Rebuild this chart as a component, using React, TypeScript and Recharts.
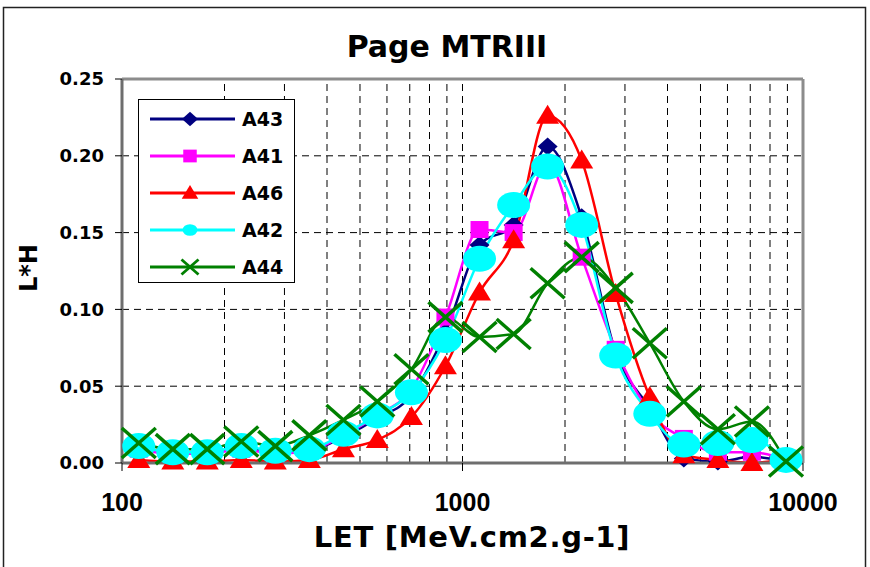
import React from 'react';
import { LineChart, Line, XAxis, YAxis, CartesianGrid, ReferenceLine } from 'recharts';

// LET bin centres (MeV.cm2.g-1)
const letValues = [112, 141, 178, 224, 282, 355, 447, 562, 708, 891, 1122, 1413, 1778, 2239, 2818, 3548, 4467, 5623, 7079, 8913];

const a43 = [0.010, 0.006, 0.006, 0.010, 0.007, 0.008, 0.017, 0.029, 0.044, 0.085, 0.142, 0.155, 0.206, 0.160, 0.072, 0.036, 0.003, 0.001, 0.004, 0.001];
const a41 = [0.009, 0.006, 0.006, 0.009, 0.006, 0.008, 0.018, 0.031, 0.048, 0.095, 0.152, 0.150, 0.195, 0.134, 0.074, 0.033, 0.016, 0.007, 0.007, 0.002];
const a46 = [0.002, 0.001, 0.001, 0.002, 0.001, 0.002, 0.009, 0.015, 0.030, 0.063, 0.111, 0.145, 0.226, 0.197, 0.110, 0.043, 0.005, 0.002, 0.000, 0.003];
const a42 = [0.011, 0.007, 0.007, 0.011, 0.008, 0.009, 0.019, 0.031, 0.046, 0.080, 0.133, 0.168, 0.193, 0.155, 0.070, 0.032, 0.012, 0.013, 0.015, 0.002];
const a44 = [0.013, 0.009, 0.009, 0.014, 0.011, 0.018, 0.028, 0.040, 0.061, 0.095, 0.082, 0.084, 0.117, 0.134, 0.114, 0.078, 0.040, 0.022, 0.027, 0.001];

const xTicks = [100, 1000, 10000];
const yTicks = [0, 0.05, 0.1, 0.15, 0.2, 0.25];
const gridX = [200, 300, 400, 500, 600, 700, 800, 900, 1000, 2000, 3000, 4000, 5000, 6000, 7000, 8000, 9000];

const data = letValues.map((x, i) => ({ x, a43: a43[i], a41: a41[i], a46: a46[i], a42: a42[i], a44: a44[i] }));

type Shape = 'diamond' | 'square' | 'triangle' | 'circle' | 'cross';

const series: { key: string; name: string; color: string; shape: Shape; width: number }[] = [
    { key: 'a43', name: 'A43', color: '#000080', shape: 'diamond', width: 2.5 },
    { key: 'a41', name: 'A41', color: '#FF00FF', shape: 'square', width: 2.5 },
    { key: 'a46', name: 'A46', color: '#FF0000', shape: 'triangle', width: 2.5 },
    { key: 'a42', name: 'A42', color: '#00FFFF', shape: 'circle', width: 2.5 },
    { key: 'a44', name: 'A44', color: '#008000', shape: 'cross', width: 2.5 },
];

const FONT = "'DejaVu Sans', Verdana, sans-serif";
const ARIAL = "'Liberation Sans', Arial, sans-serif";

// s = 1 for plot markers, smaller for legend
const Marker = ({ shape, cx, cy, color, s = 1 }: { shape: Shape; cx: number; cy: number; color: string; s?: number }) => {
    if (cx == null || cy == null) return null;
    switch (shape) {
        case 'diamond':
            return <path d={`M${cx},${cy - 9 * s}L${cx + 10 * s},${cy}L${cx},${cy + 9 * s}L${cx - 10 * s},${cy}Z`} fill={color} />;
        case 'square':
            return <rect x={cx - 9 * s} y={cy - 8.5 * s} width={18 * s} height={17 * s} fill={color} />;
        case 'triangle':
            return <path d={`M${cx},${cy - 11 * s}L${cx + 11.5 * s},${cy + 8 * s}L${cx - 11.5 * s},${cy + 8 * s}Z`} fill={color} />;
        case 'circle':
            return <ellipse cx={cx} cy={cy} rx={16.5 * s} ry={13 * s} fill={color} />;
        case 'cross':
            return (
                <g stroke={color} strokeWidth={3.5 * Math.max(s, 0.8)}>
                    <line x1={cx - 17 * s} y1={cy - 15 * s} x2={cx + 17 * s} y2={cy + 15 * s} />
                    <line x1={cx - 17 * s} y1={cy + 15 * s} x2={cx + 17 * s} y2={cy - 15 * s} />
                </g>
            );
    }
    return null;
};

const legendScale: Record<Shape, number> = { diamond: 0.8, square: 0.75, triangle: 0.72, circle: 0.45, cross: 0.5 };

export default function App() {
    return (
        <div style={{ position: 'absolute', left: 0, top: 0, width: 870, height: 567, overflow: 'hidden', background: '#fff' }}>
            <LineChart width={870} height={567} data={data} margin={{ top: 79, right: 67, bottom: 0, left: 0 }}>
                <CartesianGrid vertical={false} stroke="#000" strokeDasharray="7 5" strokeWidth={1} />
                {gridX.map((g) => (
                    <ReferenceLine key={g} x={g} stroke="#000" strokeDasharray="7 5" strokeWidth={1} />
                ))}
                <ReferenceLine y={0.25} stroke="#8c8c8c" strokeWidth={3} />
                <ReferenceLine x={10000} stroke="#8c8c8c" strokeWidth={3} />
                <XAxis
                    dataKey="x"
                    type="number"
                    scale="log"
                    domain={[100, 10000]}
                    ticks={xTicks}
                    height={104}
                    tickSize={8}
                    tickMargin={22}
                    axisLine={{ stroke: '#6e6e6e', strokeWidth: 3 }}
                    tickLine={{ stroke: '#000' }}
                    tick={{ fontFamily: ARIAL, fontWeight: 'bold', fontSize: 25, fill: '#000' }}
                />
                <YAxis
                    type="number"
                    domain={[0, 0.25]}
                    ticks={yTicks}
                    width={122}
                    tickSize={7}
                    tickMargin={11}
                    tickFormatter={(v: number) => v.toFixed(2)}
                    axisLine={{ stroke: '#6e6e6e', strokeWidth: 3 }}
                    tickLine={{ stroke: '#000' }}
                    tick={{ fontFamily: FONT, fontWeight: 'bold', fontSize: 18, fill: '#000' }}
                />
                {series.map((s) => (
                    <Line
                        key={s.key}
                        name={s.name}
                        dataKey={s.key}
                        type="monotone"
                        stroke={s.color}
                        strokeWidth={s.width}
                        isAnimationActive={false}
                        activeDot={false}
                        dot={(p: any) => (
                            <Marker key={`${s.key}-${p.index}`} shape={s.shape} cx={p.cx} cy={p.cy} color={s.color} />
                        )}
                    />
                ))}
            </LineChart>
            <svg width={870} height={567} style={{ position: 'absolute', left: 0, top: 0, pointerEvents: 'none' }}>
                <rect x={3.5} y={7.5} width={862} height={600} fill="none" stroke="#222" strokeWidth={1.5} />
                <text x={447} y={57} textAnchor="middle" fontFamily={FONT} fontWeight="bold" fontSize={30} fill="#000">
                    Page MTRIII
                </text>
                <text x={472} y={547} textAnchor="middle" fontFamily={FONT} fontWeight="bold" fontSize={29} letterSpacing={0.7} fill="#000">
                    LET [MeV.cm2.g-1]
                </text>
                <text
                    x={29}
                    y={268}
                    transform="rotate(-90 29 268)"
                    textAnchor="middle"
                    dominantBaseline="central"
                    fontFamily={FONT}
                    fontWeight="bold"
                    fontSize={24}
                    fill="#000"
                >
                    L*H
                </text>
                <rect x={138.5} y={99.5} width={156} height={183} fill="#fff" stroke="#000" strokeWidth={1} />
                {series.map((s, i) => {
                    const cy = 119 + i * 37;
                    return (
                        <g key={s.key}>
                            <line x1={150} y1={cy} x2={235} y2={cy} stroke={s.color} strokeWidth={3} />
                            <Marker shape={s.shape} cx={190} cy={cy} color={s.color} s={legendScale[s.shape]} />
                            <text x={242} y={cy + 7} fontFamily={FONT} fontWeight="bold" fontSize={19} fill="#000">
                                {s.name}
                            </text>
                        </g>
                    );
                })}
            </svg>
        </div>
    );
}
